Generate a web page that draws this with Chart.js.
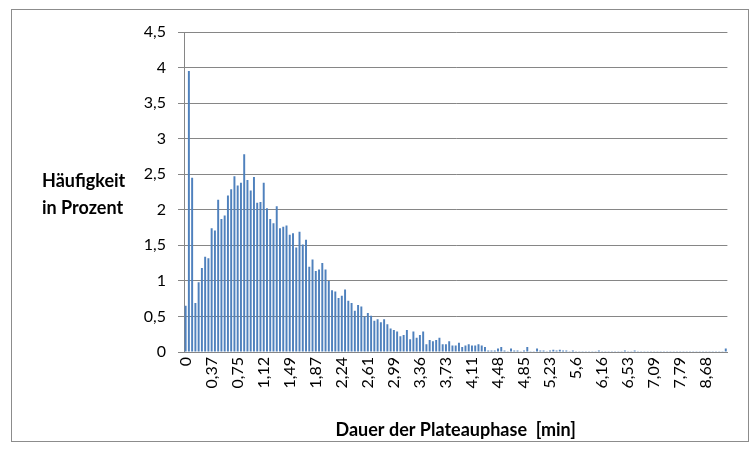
<!DOCTYPE html>
<html lang="de">
<head>
<meta charset="utf-8">
<title>Dauer der Plateauphase</title>
<script src="https://cdn.jsdelivr.net/npm/chart.js@4.4.1/dist/chart.umd.min.js"></script>
<style>
  html, body { margin: 0; padding: 0; background: #ffffff; }
  #wrap { position: relative; width: 750px; height: 455px; }
  #frame { position: absolute; left: 11px; top: 9px; width: 736px; height: 431px;
           border: 1px solid #8c8c8c; pointer-events: none; }
  canvas { position: absolute; left: 0; top: 0; }
</style>
</head>
<body>
<div id="wrap">
  <canvas id="chart" width="750" height="455"></canvas>
  <div id="frame"></div>
</div>
<script>
// Klassen der Plateaudauer in Minuten (Kategorien der x-Achse)
const dauerMin = [
  0, 0.05, 0.09, 0.14, 0.19, 0.23, 0.28, 0.33,
  0.37, 0.42, 0.47, 0.51, 0.56, 0.61, 0.65, 0.7,
  0.75, 0.79, 0.84, 0.89, 0.93, 0.98, 1.03, 1.07,
  1.12, 1.17, 1.21, 1.26, 1.31, 1.35, 1.4, 1.45,
  1.49, 1.54, 1.59, 1.63, 1.68, 1.73, 1.77, 1.82,
  1.87, 1.91, 1.96, 2.01, 2.05, 2.1, 2.15, 2.19,
  2.24, 2.29, 2.33, 2.38, 2.43, 2.47, 2.52, 2.57,
  2.61, 2.66, 2.71, 2.75, 2.8, 2.85, 2.89, 2.94,
  2.99, 3.03, 3.08, 3.13, 3.17, 3.22, 3.27, 3.31,
  3.36, 3.41, 3.45, 3.5, 3.55, 3.59, 3.64, 3.69,
  3.73, 3.78, 3.83, 3.87, 3.92, 3.97, 4.01, 4.06,
  4.11, 4.15, 4.2, 4.25, 4.29, 4.34, 4.39, 4.43,
  4.48, 4.53, 4.57, 4.62, 4.67, 4.71, 4.76, 4.81,
  4.85, 4.9, 4.95, 4.99, 5.04, 5.09, 5.13, 5.18,
  5.23, 5.27, 5.32, 5.37, 5.41, 5.46, 5.51, 5.55,
  5.6, 5.65, 5.74, 5.79, 5.88, 5.93, 6.02, 6.11,
  6.16, 6.21, 6.25, 6.3, 6.35, 6.39, 6.44, 6.49,
  6.53, 6.58, 6.67, 6.72, 6.81, 6.86, 6.95, 7,
  7.09, 7.14, 7.23, 7.33, 7.42, 7.51, 7.61, 7.7,
  7.79, 7.89, 8.03, 8.12, 8.26, 8.35, 8.45, 8.59,
  8.68, 8.82, 8.96, 9.15, 9.29, 9.47, 9.71
];

// Relative Häufigkeit je Klasse in Prozent
const haeufigkeitProzent = [
  0.65, 3.95, 2.45, 0.69, 0.98, 1.18, 1.34, 1.32,
  1.74, 1.71, 2.14, 1.87, 1.92, 2.2, 2.29, 2.47,
  2.34, 2.38, 2.78, 2.42, 2.27, 2.46, 2.1, 2.11,
  2.38, 2.02, 1.87, 1.81, 2.05, 1.74, 1.76, 1.78,
  1.65, 1.67, 1.47, 1.69, 1.51, 1.58, 1.2, 1.3,
  1.14, 1.16, 1.25, 1.16, 1.0, 0.87, 0.85, 0.76,
  0.79, 0.88, 0.72, 0.69, 0.58, 0.66, 0.64, 0.5,
  0.55, 0.51, 0.44, 0.46, 0.42, 0.46, 0.39, 0.33,
  0.31, 0.29, 0.22, 0.24, 0.31, 0.18, 0.29, 0.2,
  0.24, 0.29, 0.11, 0.17, 0.15, 0.17, 0.2, 0.11,
  0.11, 0.15, 0.09, 0.09, 0.13, 0.07, 0.09, 0.11,
  0.09, 0.09, 0.11, 0.09, 0.07, 0.02, 0.02, 0.02,
  0.05, 0.07, 0.02, 0.01, 0.05, 0.02, 0.02, 0.01,
  0.02, 0.07, 0.01, 0.01, 0.05, 0.02, 0.02, 0.01,
  0.02, 0.03, 0.02, 0.03, 0.02, 0.02, 0.01, 0.02,
  0.01, 0.01, 0.01, 0.01, 0.01, 0.01, 0.01, 0.02,
  0.01, 0.01, 0.01, 0.01, 0.01, 0.01, 0.01, 0.02,
  0.01, 0.01, 0.02, 0.01, 0.01, 0.01, 0.01, 0.01,
  0.01, 0.01, 0.01, 0.01, 0.01, 0.01, 0.01, 0.01,
  0.01, 0.01, 0.01, 0.01, 0.01, 0.01, 0.01, 0.01,
  0.01, 0.01, 0.01, 0.01, 0.01, 0.01, 0.05
];

// Beschriftung: jede achte Klasse auf der x-Achse, y-Achse in 0,5er Schritten
const xLabelStep = 8;
const yMax = 4.5;
const yStep = 0.5;

const yTitleLines = ['Häufigkeit', 'in Prozent'];
const xTitle = 'Dauer der Plateauphase  [min]';

const fontFamily = 'Lato, "Liberation Sans", sans-serif';
const axisGrey = '#868686';

function deZahl(v) {
  return String(v).replace('.', ',');
}

// Achsentitel wie im Excel-Diagramm: y-Titel waagerecht links, x-Titel mittig unten
const achsenTitel = {
  id: 'achsenTitel',
  afterDraw(chart) {
    const { ctx, chartArea } = chart;
    ctx.save();
    ctx.fillStyle = '#000000';
    ctx.font = 'bold 18px ' + fontFamily;
    ctx.textBaseline = 'middle';
    ctx.textAlign = 'left';
    ctx.fillText(yTitleLines[0], 42, 181);
    ctx.fillText(yTitleLines[1], 42, 208);
    ctx.textAlign = 'center';
    ctx.fillText(xTitle, (chartArea.left + chartArea.right) / 2, 430);
    ctx.restore();
  }
};

new Chart(document.getElementById('chart'), {
  type: 'bar',
  data: {
    labels: dauerMin,
    datasets: [{
      data: haeufigkeitProzent,
      backgroundColor: '#4F81BD',
      borderWidth: 0,
      barPercentage: 0.6,
      categoryPercentage: 1.0
    }]
  },
  options: {
    responsive: false,
    animation: false,
    events: [],
    layout: { padding: { left: 0, right: 10, top: 32, bottom: 0 } },
    plugins: {
      legend: { display: false },
      tooltip: { enabled: false },
      title: { display: false }
    },
    scales: {
      x: {
        type: 'category',
        grid: { display: true, drawOnChartArea: false, drawTicks: false },
        border: { display: true, color: axisGrey, width: 1 },
        ticks: {
          autoSkip: false,
          maxRotation: 90,
          minRotation: 90,
          padding: 5,
          color: '#000000',
          font: { family: fontFamily, size: 16 },
          callback: (value, index) => index % xLabelStep === 0 ? deZahl(dauerMin[index]) : ''
        },
        afterFit(scale) { scale.height = 103; }
      },
      y: {
        min: 0,
        max: yMax,
        grid: { color: axisGrey, lineWidth: 1, tickLength: 6, drawTicks: true },
        border: { display: true, color: axisGrey, width: 1 },
        ticks: {
          stepSize: yStep,
          padding: 12,
          color: '#000000',
          font: { family: fontFamily, size: 16 },
          callback: (value) => deZahl(value)
        },
        afterFit(scale) { scale.width = 184; }
      }
    }
  },
  plugins: [achsenTitel]
});
</script>
</body>
</html>
